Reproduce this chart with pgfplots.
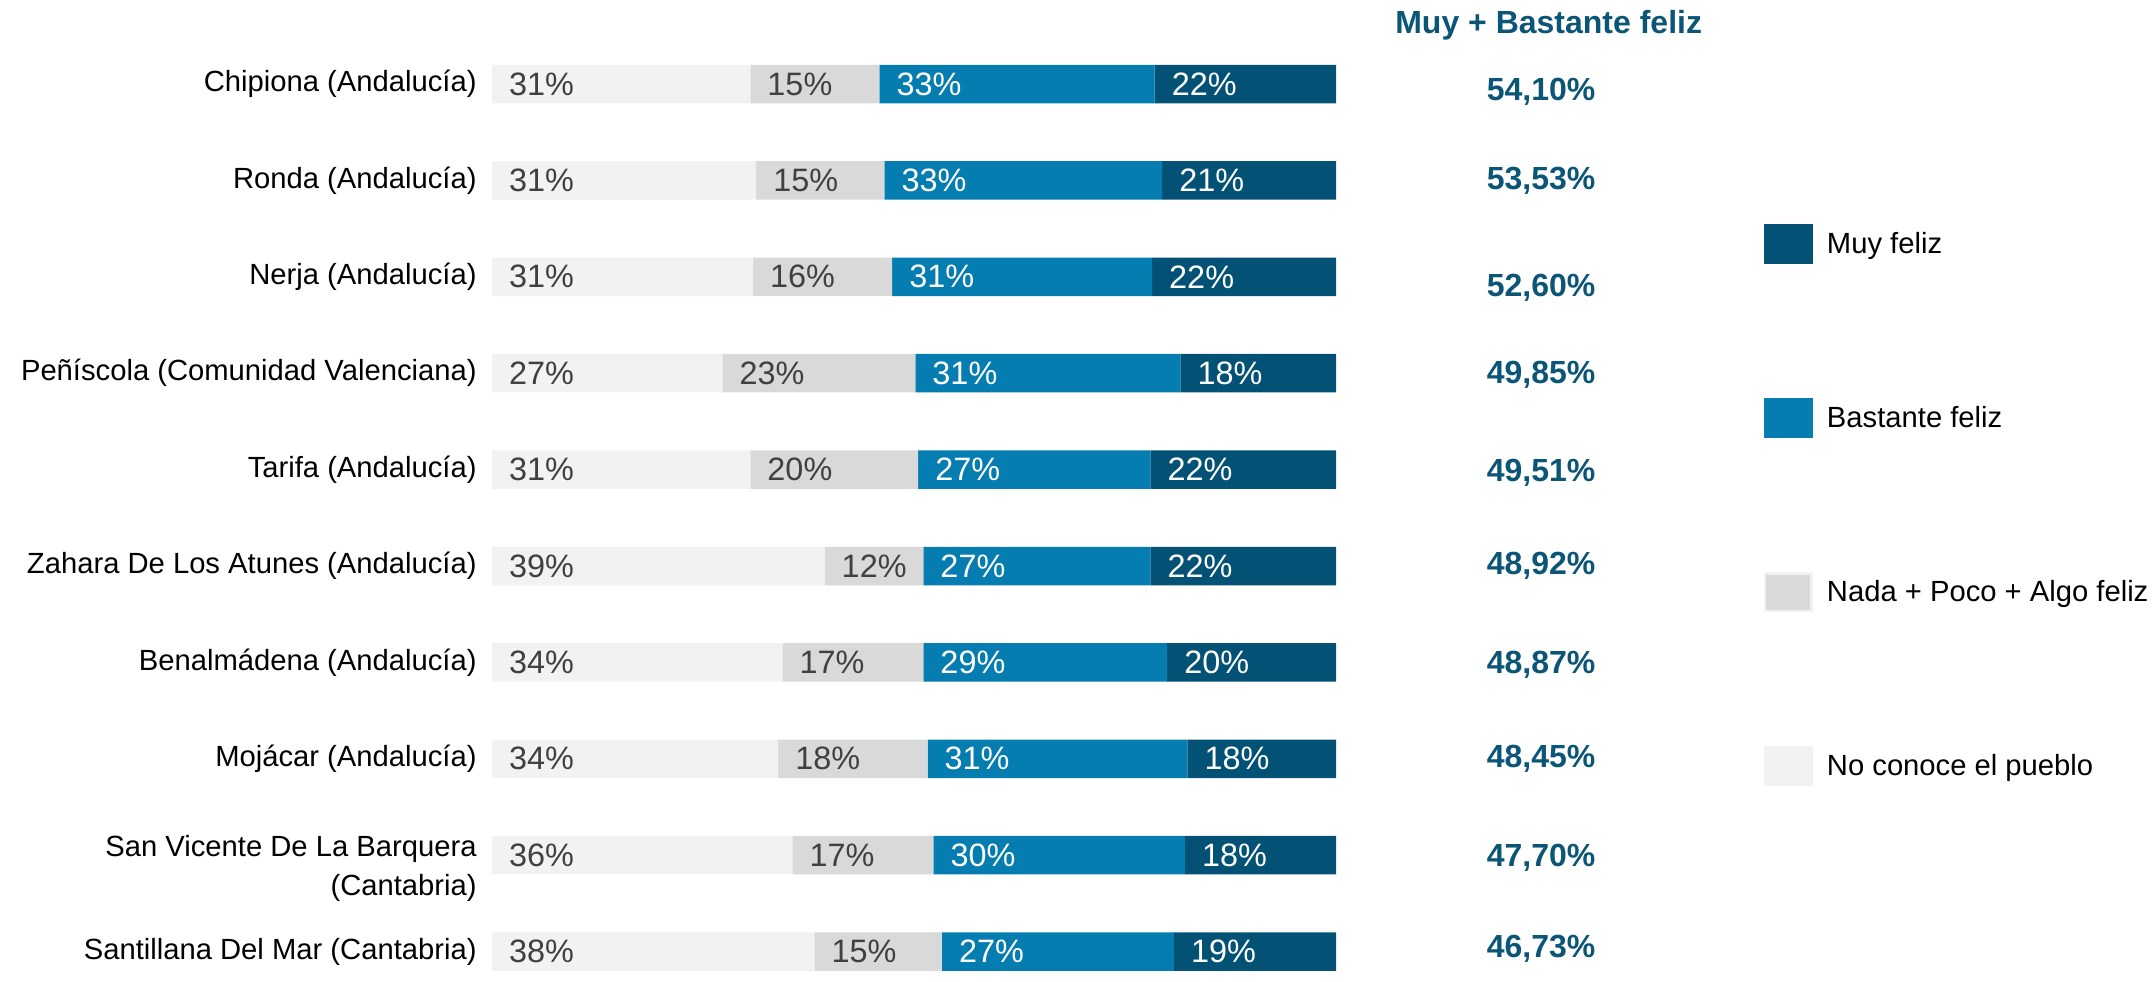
\documentclass[border=0pt]{standalone}
\usepackage{pgfplots}
\pgfplotsset{compat=1.18}
\usepackage{pgfplotstable}
\usepackage{fontspec}
\setmainfont{Liberation Sans}
\definecolor{muy}{HTML}{035275}
\definecolor{bas}{HTML}{057DB1}
\definecolor{nada}{HTML}{D9D9D9}
\definecolor{noc}{HTML}{F2F2F2}
\definecolor{lab}{HTML}{404040}
\definecolor{tot}{HTML}{0B5577}
\pgfplotstableread{
idx N A B M lN lA lB lM T dy
0 30.6 15.3 32.6 21.5 31 15 33 22 54.10 0.08
1 31.3 15.2 32.9 20.6 31 15 33 21 53.53 0
2 30.9 16.5 30.8 21.8 31 16 31 22 52.60 0.11
3 27.3 22.85 31.4 18.45 27 23 31 18 49.85 0.02
4 30.6 19.9 27.5 22.0 31 20 27 22 49.51 0.03
5 39.4 11.7 26.9 22.0 39 12 27 22 48.92 0
6 34.4 16.7 28.9 20.0 34 17 29 20 48.87 0.03
7 33.9 17.7 30.8 17.6 34 18 31 18 48.45 0
8 35.6 16.7 29.8 17.9 36 17 30 18 47.70 0.03
9 38.2 15.1 27.5 19.2 38 15 27 19 46.73 -0.03
}\data
\newcommand{\fs}{\fontsize{14.6pt}{17.5pt}\selectfont}
\newcommand{\fl}{\fontsize{16.2pt}{18pt}\selectfont}
\newcommand{\fb}{\fontsize{16pt}{19pt}\selectfont\bfseries}
\pgfplotsset{
  common/.style={
    scale only axis, width=422pt, height=482pt,
    xmin=0, xmax=100, ymin=-0.5, ymax=9.5, y dir=reverse,
    at={(246pt,472.6pt)}, anchor=north west, clip=false,
  },
  sq/.style={legend image code/.code={\fill[##1] (0pt,-10pt) rectangle (24.3pt,10pt);}},
  lbl/.style={draw=none, mark=none, nodes near coords={\pgfplotspointmeta\%},
     point meta=explicit symbolic,
     every node near coord/.style={anchor=west, inner sep=0pt, xshift=8.4pt, font=\fl, text=#1}},
}
\begin{document}
\begin{tikzpicture}
\path[use as bounding box] (0,0) rectangle (1077.5pt,490.5pt);
\begin{axis}[common,
  xbar stacked, bar width=19.25pt,
  axis line style={draw=none}, tick style={draw=none}, major tick length=0pt,
  xtick=\empty, ytick={0,...,9},
  yticklabels={Chipiona (Andalucía), Ronda (Andalucía), Nerja (Andalucía), Peñíscola (Comunidad Valenciana), Tarifa (Andalucía), Zahara De Los Atunes (Andalucía), Benalmádena (Andalucía), Mojácar (Andalucía), {\rule{0pt}{24pt}San Vicente De La Barquera\\[2pt](Cantabria)}, Santillana Del Mar (Cantabria)},
  yticklabel style={align=right, font=\fs, inner sep=0pt, xshift=-7.5pt, text=black},
  reverse legend,
  legend style={at={(1.4995,0.809)}, anchor=north west, draw=none, fill=none,
    font=\fs, row sep=67pt, column sep=5.7pt, nodes={inner sep=1.5pt}},
  legend cell align=left,
]
\addplot[fill=noc, draw=none, sq] table[x=N, y=idx] {\data};
\addplot[fill=nada, draw=none, legend image code/.code={\fill[noc] (0pt,-10pt) rectangle (24.3pt,10pt); \fill[nada] (1.2pt,-8.8pt) rectangle (23.1pt,8.8pt);}] table[x=A, y=idx] {\data};
\addplot[fill=bas, draw=none, sq] table[x=B, y=idx] {\data};
\addplot[fill=muy, draw=none, sq] table[x=M, y=idx] {\data};
\legend{No conoce el pueblo, Nada + Poco + Algo feliz, Bastante feliz, Muy feliz}
\end{axis}
\begin{axis}[common, hide axis]
\addplot[lbl=lab] table[x expr=0, y=idx, meta=lN] {\data};
\addplot[lbl=lab] table[x=N, y=idx, meta=lA] {\data};
\addplot[lbl=white] table[x expr=\thisrow{N}+\thisrow{A}, y=idx, meta=lB] {\data};
\addplot[lbl=white] table[x expr=\thisrow{N}+\thisrow{A}+\thisrow{B}, y=idx, meta=lM] {\data};
\addplot[draw=none, mark=none, point meta=\thisrow{T},
  nodes near coords={\pgfmathprintnumber[fixed, fixed zerofill, precision=2, use comma, assume math mode=true]{\pgfplotspointmeta}\%},
  every node near coord/.style={anchor=center, inner sep=0pt, font=\fb, text=tot}]
  table[x expr=124.3, y expr=\thisrow{idx}+\thisrow{dy}] {\data};
\node[font=\fb, text=tot, anchor=center] at (axis cs:125.2,-0.61) {Muy + Bastante feliz};
\end{axis}
\end{tikzpicture}
\end{document}
